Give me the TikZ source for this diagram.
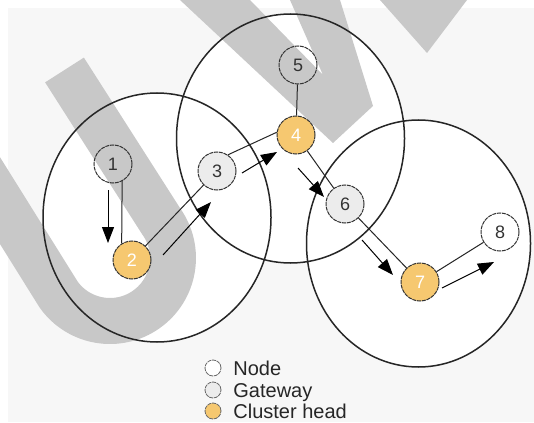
\documentclass[tikz,border=0pt]{standalone}
\usepackage{fontspec}
\setmainfont{Liberation Sans}
\usetikzlibrary{arrows.meta, positioning}

\definecolor{headorange}{RGB}{246,200,112}
\definecolor{gatewaygray}{RGB}{236,236,236}
\definecolor{markgray}{RGB}{200,200,200}
\definecolor{paper}{RGB}{247,247,247}

\begin{document}
\begin{tikzpicture}[x=0.5pt, y=-0.5pt,
  base/.style={circle, draw=black!80, line width=0.5pt,
    dash pattern=on 2pt off 0.4pt, minimum size=19pt, inner sep=0pt,
    font=\fontsize{9}{10}\selectfont, text=black!80},
  plainnode/.style={base},
  gatenode/.style={base, fill=gatewaygray},
  headnode/.style={base, fill=headorange, text=white},
  legend/.style={minimum size=8pt, draw=black!60, line width=0.4pt},
  legtext/.style={anchor=base west, inner sep=0pt, text=black!85,
    font=\fontsize{10}{12}\selectfont},
  cell/.style={draw=black!85, line width=0.75pt},
  link/.style={draw=black!85, line width=0.5pt},
  flow/.style={draw=black, line width=0.5pt, -{Triangle[length=8pt,width=6pt]}}
]

\useasboundingbox (0,0) rectangle (534,422);
\fill[white] (0,0) rectangle (534,422);
\fill[paper] (8,8) rectangle (534,422);

% Cell areas
\fill[white] (157,217.5) ellipse [x radius=57pt, y radius=62.25pt];
\fill[white] (290.5,138.5) ellipse [x radius=57pt, y radius=62.25pt];
\fill[white] (418.5,243.5) ellipse [x radius=56pt, y radius=61.75pt];

% Watermark
\begin{scope}
  \clip (0,0) rectangle (534,422);
  \draw[markgray, line width=23pt] (64.5,70) -- (161.3,221.5)
    arc[start angle=35.4, end angle=-144.6, radius=31.5pt] -- (-21,167);
  \fill[markgray] (180,0) -- (333,143) -- (373,106) -- (340,0) -- (290,0)
    -- (323,75) -- (250,0) -- cycle;
  \fill[markgray] (380,0) -- (427,53) -- (467,0) -- cycle;
\end{scope}

\draw[cell] (157,217.5) ellipse [x radius=57pt, y radius=62.25pt];
\draw[cell] (290.5,138.5) ellipse [x radius=57pt, y radius=62.25pt];
\draw[cell] (418.5,243.5) ellipse [x radius=56pt, y radius=61.75pt];

% Nodes
\node[plainnode] (n1) at (113,164) {1};
\node[headnode]  (n2) at (132,260) {2};
\node[gatenode]  (n3) at (217,171) {3};
\node[headnode]  (n4) at (296,135) {4};
\node[plainnode] (n5) at (298,65)  {5};
\node[gatenode]  (n6) at (345,204) {6};
\node[headnode]  (n7) at (420,282) {7};
\node[plainnode] (n8) at (500,232) {8};

% ---- Links ----
\draw[link] (n1.-62) -- (n2.122);
\draw[link] (n2) -- (n3);
\draw[link] (n3.56) -- (n4.172);
\draw[link] (n4) -- (n5);
\draw[link] (n4) -- (n6);
\draw[link] (n6) -- (n7);
\draw[link] (n7) -- (n8);

% ---- Routing ----
\coordinate (f12a) at (108,190);
\coordinate (f12b) at (108,243);
\coordinate (f23a) at (163,255);
\coordinate (f23b) at (211,202);
\coordinate (f34a) at (242,173);
\coordinate (f34b) at (277,152);
\coordinate (f46a) at (298,168);
\coordinate (f46b) at (324,197);
\coordinate (f67a) at (362,240);
\coordinate (f67b) at (393,275);
\coordinate (f78a) at (442,288);
\coordinate (f78b) at (494,262);

\draw[flow] (f12a) -- (f12b);
\draw[flow] (f23a) -- (f23b);
\draw[flow] (f34a) -- (f34b);
\draw[flow] (f46a) -- (f46b);
\draw[flow] (f67a) -- (f67b);
\draw[flow] (f78a) -- (f78b);

% Legend
\node[plainnode, legend, fill=white] (lgnode) at (213,368) {};
\node[gatenode, legend] (lggate) at (213,390) {};
\node[headnode, legend] (lghead) at (213,411) {};
\node[legtext] (txnode) at (233,375) {Node};
\node[legtext] (txgate) at (233,397) {Gateway};
\node[legtext] (txhead) at (233,418) {Cluster head};

\end{tikzpicture}
\end{document}
